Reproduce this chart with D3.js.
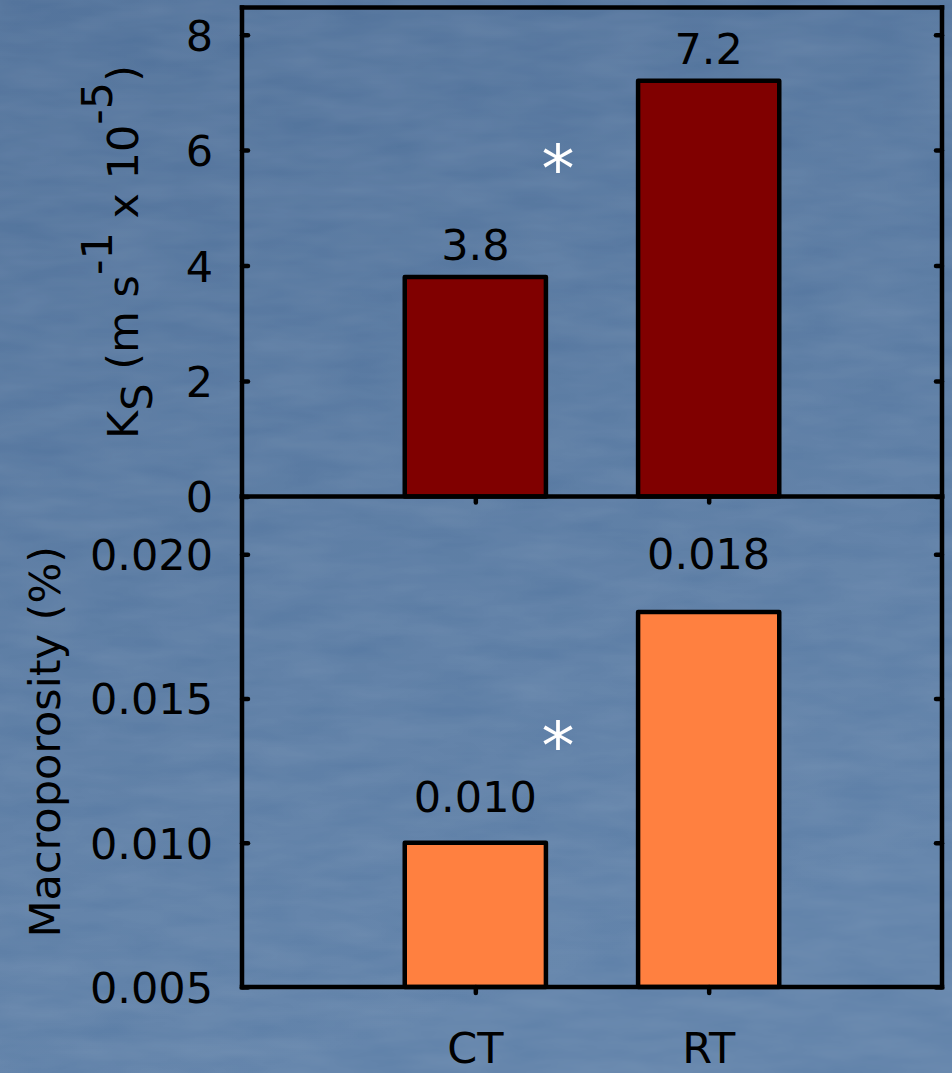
<!DOCTYPE html>
<html><head><meta charset="utf-8">
<script src="https://cdn.jsdelivr.net/npm/d3@7"></script>
<style>
html,body{margin:0;padding:0;background:#56789f;}
svg{display:block;}
text{font-family:"DejaVu Sans",sans-serif;}
</style></head>
<body>
<script>
// ---- data ----
const categories = ["CT", "RT"];
const ksValues = [3.8, 7.2];
const ksLabels = ["3.8", "7.2"];
const ksTicks = [0, 2, 4, 6, 8];
const macroValues = [0.010, 0.018];
const macroLabels = ["0.010", "0.018"];
const macroTicks = [0.005, 0.010, 0.015, 0.020];

const W = 952, H = 1073;
const svg = d3.select("body").append("svg").attr("width", W).attr("height", H);

// background with subtle texture
const defs = svg.append("defs");
const grad = defs.append("linearGradient").attr("id","bg").attr("x1",0).attr("y1",0).attr("x2",0.3).attr("y2",1);
grad.append("stop").attr("offset","0%").attr("stop-color","#4f7099");
grad.append("stop").attr("offset","100%").attr("stop-color","#5e80a8");
const filt = defs.append("filter").attr("id","tex").attr("x",0).attr("y",0).attr("width","100%").attr("height","100%");
filt.append("feTurbulence").attr("type","fractalNoise").attr("baseFrequency","0.012 0.05").attr("numOctaves",3).attr("seed",4);
filt.append("feColorMatrix").attr("type","matrix").attr("values","0 0 0 0 1  0 0 0 0 1  0 0 0 0 1  0 0 0 0.18 0");
svg.append("rect").attr("width",W).attr("height",H).attr("fill","url(#bg)");
svg.append("rect").attr("width",W).attr("height",H).attr("filter","url(#tex)").attr("opacity",0.6);

const left = 242, right = 942;
const top1 = 7.5, mid = 496.5, bot = 987;
const fs = 43;
const sw = 4.5;

const x = d3.scalePoint().domain(categories).range([left, right]).padding(1);
const barW = x.step() * 0.605;

const yKs = d3.scaleLinear().domain([0, 8.47]).range([mid, top1]);
const yMac = d3.scaleLinear().domain([0.005, 0.0220]).range([bot, mid]);

function panel(y, values, labels, ticks, fill, fmt, labelGap, yTop, yBot, drawTopLine) {
  const g = svg.append("g");
  g.selectAll("rect.bar").data(values).join("rect")
    .attr("x", (d,i) => x(categories[i]) - barW/2)
    .attr("y", d => y(d))
    .attr("width", barW)
    .attr("height", d => y(y.domain()[0]) - y(d))
    .attr("fill", fill).attr("stroke","#000").attr("stroke-width",sw).attr("stroke-linejoin","round");
  g.selectAll("text.val").data(values).join("text")
    .attr("x", (d,i) => x(categories[i]))
    .attr("y", (d,i) => y(d) - labelGap[i])
    .attr("text-anchor","middle").attr("font-size", fs).attr("fill","#000")
    .text((d,i) => labels[i]);
  const la = d3.axisLeft(y).tickValues(ticks).tickSize(-6).tickPadding(29).tickFormat(fmt);
  const lg = svg.append("g").attr("transform",`translate(${left},0)`).call(la);
  lg.select(".domain").remove();
  lg.selectAll(".tick line").attr("stroke","#000").attr("stroke-width",sw).attr("stroke-linecap","round");
  lg.selectAll(".tick text").attr("font-size",fs).attr("fill","#000").attr("font-family","DejaVu Sans").attr("dy","0.36em");
  const ra = d3.axisRight(y).tickValues(ticks).tickSize(-6).tickFormat("");
  const rg = svg.append("g").attr("transform",`translate(${right},0)`).call(ra);
  rg.select(".domain").remove();
  rg.selectAll(".tick line").attr("stroke","#000").attr("stroke-width",sw).attr("stroke-linecap","round");
  const xa = d3.axisBottom(x).tickSize(6).tickFormat("");
  const xg = svg.append("g").attr("transform",`translate(0,${yBot})`).call(xa);
  xg.select(".domain").remove();
  xg.selectAll(".tick line").attr("stroke","#000").attr("stroke-width",sw).attr("stroke-linecap","round");
  const f = svg.append("g").attr("stroke","#000").attr("stroke-width",sw).attr("fill","none").attr("stroke-linecap","square");
  f.append("line").attr("x1",left).attr("x2",left).attr("y1",yTop).attr("y2",yBot);
  f.append("line").attr("x1",right).attr("x2",right).attr("y1",yTop).attr("y2",yBot);
  f.append("line").attr("x1",left).attr("x2",right).attr("y1",yBot).attr("y2",yBot);
  if (drawTopLine) f.append("line").attr("x1",left).attr("x2",right).attr("y1",yTop).attr("y2",yTop);
}

panel(yKs, ksValues, ksLabels, ksTicks, "#800000", d3.format("d"), [17,17], top1, mid, true);
panel(yMac, macroValues, macroLabels, macroTicks, "#ff8040", d3.format(".3f"), [31,43], mid, bot, false);

// significance asterisks (between the bars)
const midX = (x("CT") + x("RT")) / 2 - 34;
svg.append("text").attr("x", midX).attr("y", yKs(6) + 42).attr("text-anchor","middle")
  .attr("font-size",66).attr("fill","#fff").text("*");
svg.append("text").attr("x", midX).attr("y", yMac(0.014) + 42).attr("text-anchor","middle")
  .attr("font-size",66).attr("fill","#fff").text("*");

// x category labels
svg.selectAll("text.cat").data(categories).join("text")
  .attr("x", d => x(d)).attr("y", 1063).attr("text-anchor","middle")
  .attr("font-size",fs).attr("fill","#000").text(d => d);

// y titles
const t1 = svg.append("text").attr("transform",`translate(138,${(top1+mid)/2}) rotate(-90)`)
  .attr("text-anchor","middle").attr("font-size",fs).attr("fill","#000");
t1.append("tspan").text("K");
t1.append("tspan").attr("dy",14).text("S");
t1.append("tspan").attr("dy",-14).text(" (m s");
t1.append("tspan").attr("dy",-26).text("-1");
t1.append("tspan").attr("dy",26).text(" x 10");
t1.append("tspan").attr("dy",-26).text("-5");
t1.append("tspan").attr("dy",26).text(")");

svg.append("text").attr("transform",`translate(60,${(mid+bot)/2}) rotate(-90)`)
  .attr("text-anchor","middle").attr("font-size",fs).attr("fill","#000").text("Macroporosity (%)");
</script>
</body></html>
